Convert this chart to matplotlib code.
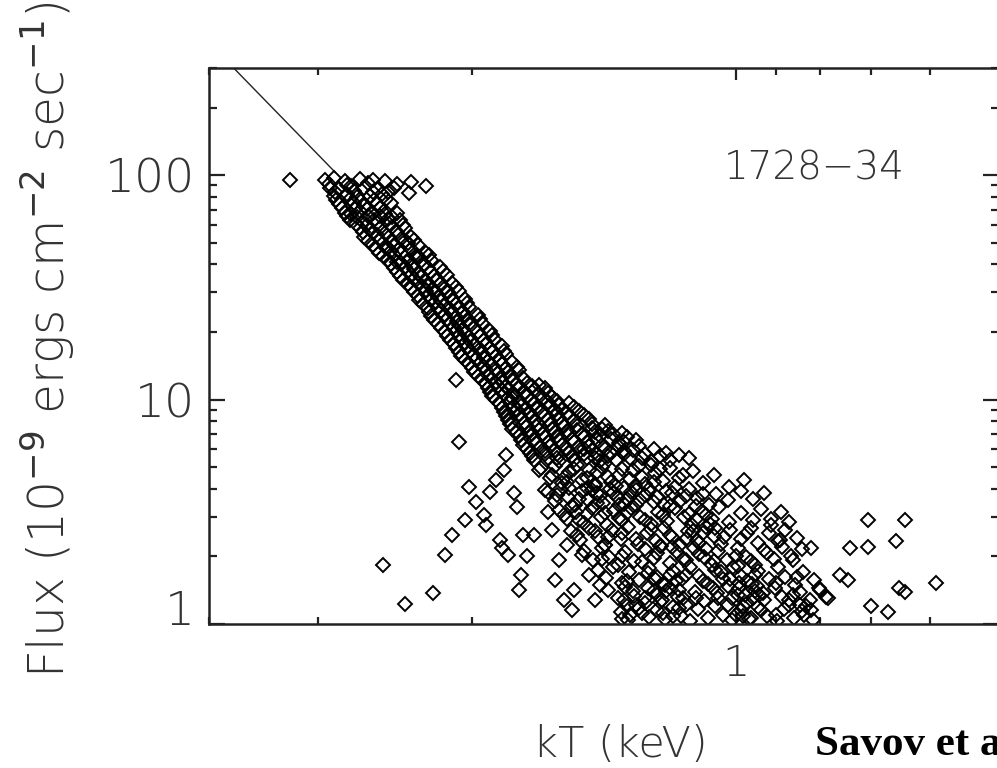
import numpy as np
import matplotlib.pyplot as plt
from matplotlib.ticker import FixedLocator, FixedFormatter, NullFormatter, LogLocator
from matplotlib.transforms import ScaledTranslation

# --- 数据 (kT [keV], Flux [1e-9 erg cm^-2 s^-1]) ---

# 主带上半部分: 沿 F ~ T^4 的冷却轨迹
band_points = [
    (3.23, 95), (2.95, 95), (2.88, 97), (2.80, 94), (2.69, 96), (2.60, 95), (2.52, 94), (2.35, 93),
    (2.91, 88), (2.84, 87), (2.75, 89), (2.66, 88), (2.57, 87), (2.46, 88), (2.26, 89),
    (2.88, 81), (2.78, 82), (2.71, 80), (2.62, 81), (2.54, 82), (2.36, 83),
    (2.84, 74), (2.73, 75), (2.66, 73), (2.57, 74), (2.48, 75),
    (2.80, 68), (2.75, 67), (2.69, 69), (2.60, 68), (2.52, 67), (2.44, 68),
    (2.76, 63), (2.67, 62), (2.59, 63), (2.50, 64), (2.42, 63),
    (2.69, 58), (2.62, 57), (2.55, 58), (2.47, 59), (2.39, 58),
    (2.66, 53), (2.57, 54), (2.49, 53), (2.41, 52), (2.35, 53),
    (2.60, 49), (2.52, 48), (2.46, 49), (2.37, 50), (2.31, 49),
    (2.56, 45), (2.48, 46), (2.41, 45), (2.33, 44), (2.26, 45),
    (2.50, 42), (2.44, 41), (2.36, 42), (2.30, 43), (2.23, 42),
    (2.46, 38.5), (2.39, 39), (2.33, 38), (2.25, 38.5), (2.18, 39),
    (2.42, 35.5), (2.35, 36), (2.29, 35), (2.21, 35.5), (2.14, 36),
    (2.37, 32.7), (2.31, 33), (2.24, 32.5), (2.18, 32.7), (2.11, 33),
    (2.33, 30), (2.26, 30.5), (2.21, 30), (2.13, 30.1), (2.07, 30.5),
    (2.30, 27.7), (2.23, 28), (2.17, 27.5), (2.11, 27.7), (2.04, 28),
    (2.25, 25.5), (2.19, 25.8), (2.12, 25.3), (2.07, 25.5), (2.02, 25.8),
    (2.23, 23.5), (2.15, 23.7), (2.09, 23.3), (2.04, 23.5), (1.97, 23.8),
    (2.19, 21.7), (2.12, 21.9), (2.07, 21.5), (2.02, 21.7), (1.95, 22),
    (2.15, 20), (2.09, 20.2), (2.04, 19.8), (1.97, 20), (1.91, 20.3),
    (2.12, 18.4), (2.06, 18.6), (2.01, 18.2), (1.94, 18.4), (1.89, 18.7),
    (2.09, 17), (2.03, 17.2), (1.96, 16.8), (1.91, 17), (1.85, 17.3),
    (2.06, 15.6), (1.99, 15.8), (1.94, 15.4), (1.88, 15.6), (1.83, 15.9),
    (2.02, 14.4), (1.96, 14.6), (1.90, 14.2), (1.85, 14.4), (1.80, 14.7),
    (1.99, 13.3), (1.93, 13.5), (1.87, 13.1), (1.82, 13.3), (1.77, 13.6),
    (2.09, 12.2), (1.95, 12.2), (1.90, 12.4), (1.85, 12), (1.80, 12.2), (1.75, 12.5),
    (1.92, 11.3), (1.87, 11.5), (1.82, 11.1), (1.77, 11.3), (1.71, 11.5), (1.65, 11.2),
    (1.90, 10.4), (1.84, 10.6), (1.80, 10.2), (1.73, 10.4), (1.68, 10.6), (1.62, 10.3),
    (1.86, 9.6), (1.81, 9.8), (1.76, 9.4), (1.70, 9.6), (1.64, 9.8), (1.59, 9.5), (1.55, 9.7),
    (1.84, 8.8), (1.78, 9), (1.72, 8.7), (1.67, 8.8), (1.61, 9), (1.56, 8.7), (1.51, 8.9),
    (1.82, 8.1), (1.76, 8.3), (1.70, 8), (1.64, 8.1), (1.59, 8.3), (1.53, 8), (1.47, 8.2),
    (1.80, 7.4), (1.73, 7.6), (1.68, 7.3), (1.62, 7.4), (1.57, 7.6), (1.52, 7.3), (1.46, 7.5), (1.42, 7.4),
    (1.77, 6.9), (1.71, 7), (1.65, 6.8), (1.60, 6.9), (1.55, 7.1), (1.49, 6.8), (1.43, 6.9), (1.38, 7), (1.33, 6.8),
    (1.75, 6.3), (1.69, 6.4), (1.63, 6.2), (1.58, 6.3), (1.53, 6.5), (1.47, 6.2), (1.42, 6.3), (1.36, 6.4), (1.29, 6.2),
    (1.72, 5.8), (1.65, 5.9), (1.60, 5.7), (1.55, 5.8), (1.49, 6), (1.44, 5.7), (1.39, 5.8), (1.34, 5.9), (1.27, 5.7), (1.20, 5.8),
    (1.70, 5.4), (1.64, 5.5), (1.59, 5.3), (1.53, 5.4), (1.48, 5.5), (1.43, 5.3), (1.37, 5.4), (1.32, 5.5), (1.25, 5.3), (1.19, 5.4), (1.13, 5.5),
]

# 主带上半部分中心更密集的点
core_points = [
    (2.92, 91), (2.78, 90), (2.63, 92), (2.44, 91),
    (2.87, 84.5), (2.73, 85), (2.60, 84), (2.50, 84.5),
    (2.86, 77.5), (2.76, 78), (2.68, 77), (2.59, 77.5), (2.51, 78),
    (2.82, 71), (2.72, 71.5), (2.64, 70.5), (2.55, 71),
    (2.78, 65.5), (2.71, 65), (2.63, 66), (2.55, 65.5), (2.47, 65),
    (2.72, 60.5), (2.64, 60), (2.57, 61), (2.49, 60.5), (2.40, 60),
    (2.67, 55.5), (2.60, 56), (2.52, 55), (2.44, 55.5),
    (2.63, 51), (2.55, 51.5), (2.47, 50.5), (2.39, 51), (2.33, 51.5),
    (2.58, 47), (2.50, 47.5), (2.43, 46.5), (2.35, 47),
    (2.53, 43.5), (2.46, 44), (2.39, 43), (2.32, 43.5), (2.24, 44),
    (2.48, 40), (2.41, 40.5), (2.34, 39.5), (2.27, 40),
    (2.44, 37), (2.37, 37.5), (2.31, 36.5), (2.23, 37), (2.16, 37.5),
    (2.40, 34), (2.33, 34.5), (2.26, 33.7), (2.20, 34),
    (2.35, 31.3), (2.28, 31.7), (2.22, 31), (2.15, 31.3), (2.09, 31.7),
    (2.31, 28.9), (2.25, 29.2), (2.19, 28.6), (2.12, 28.9),
    (2.28, 26.6), (2.21, 26.9), (2.15, 26.3), (2.09, 26.6), (2.03, 26.9),
    (2.24, 24.5), (2.17, 24.8), (2.11, 24.2), (2.05, 24.5),
    (2.21, 22.6), (2.14, 22.8), (2.08, 22.4), (2.03, 22.6), (1.96, 22.8),
    (2.17, 20.8), (2.10, 21), (2.05, 20.6), (1.99, 20.8),
    (2.14, 19.2), (2.07, 19.4), (2.02, 19), (1.96, 19.2), (1.90, 19.4),
    (2.10, 17.7), (2.04, 17.9), (1.99, 17.5), (1.93, 17.7),
    (2.07, 16.3), (2.01, 16.5), (1.95, 16.1), (1.90, 16.3), (1.84, 16.5),
    (2.04, 15), (1.98, 15.2), (1.92, 14.8), (1.86, 15),
    (2.00, 13.8), (1.94, 14), (1.88, 13.6), (1.83, 13.8), (1.78, 14),
    (1.97, 12.7), (1.92, 12.9), (1.86, 12.5), (1.81, 12.7),
    (1.93, 11.7), (1.88, 11.9), (1.83, 11.5), (1.78, 11.7), (1.73, 11.9), (1.68, 11.6),
    (1.91, 10.8), (1.85, 11), (1.79, 10.6), (1.74, 10.8), (1.70, 11), (1.64, 10.7),
    (1.88, 10), (1.82, 10.2), (1.77, 9.8), (1.71, 10), (1.66, 10.2), (1.60, 9.9),
    (1.85, 9.2), (1.79, 9.4), (1.74, 9.1), (1.69, 9.2), (1.63, 9.4), (1.58, 9.1), (1.53, 9.3),
    (1.83, 8.45), (1.77, 8.6), (1.71, 8.35), (1.65, 8.45), (1.60, 8.6), (1.55, 8.35), (1.49, 8.5),
    (1.81, 7.75), (1.74, 7.9), (1.69, 7.65), (1.63, 7.75), (1.58, 7.9), (1.52, 7.65), (1.46, 7.8), (1.41, 7.7),
    (1.78, 7.15), (1.72, 7.25), (1.66, 7.05), (1.61, 7.15), (1.56, 7.25), (1.50, 7.05), (1.45, 7.15), (1.40, 7.25), (1.35, 7.1),
    (1.76, 6.6), (1.70, 6.7), (1.64, 6.5), (1.59, 6.6), (1.54, 6.7), (1.48, 6.5), (1.44, 6.6), (1.39, 6.7), (1.34, 6.5), (1.30, 6.6),
    (1.73, 6.05), (1.67, 6.15), (1.61, 5.95), (1.56, 6.05), (1.51, 6.15), (1.46, 5.95), (1.41, 6.05), (1.36, 6.15), (1.31, 5.95), (1.24, 6.05),
    (1.71, 5.6), (1.65, 5.7), (1.60, 5.5), (1.54, 5.6), (1.49, 5.7), (1.45, 5.5), (1.40, 5.6), (1.34, 5.7), (1.28, 5.5), (1.22, 5.6), (1.16, 5.65),
]

# 主带下半部分 (F < 5), 点分布更散
lower_points = [
    (1.67, 4.95), (1.63, 4.47), (1.61, 5.06), (1.58, 4.25), (1.55, 4.75), (1.52, 5.11), (1.50, 4.38),
    (1.47, 4.85), (1.45, 4.20), (1.42, 5.01), (1.40, 4.52), (1.37, 4.12), (1.35, 4.90), (1.32, 4.42),
    (1.29, 5.06), (1.27, 4.20), (1.235, 4.70), (1.21, 4.34), (1.19, 4.95), (1.16, 4.47), (1.12, 4.80),
    (1.09, 4.25), (1.06, 4.61), (1.017, 4.08), (0.978, 4.38), (1.566, 4.52), (1.48, 4.03), (1.41, 5.22),
    (1.34, 4.03), (1.25, 5.11),
    (1.64, 3.87), (1.61, 3.53), (1.586, 3.99), (1.554, 3.68), (1.526, 3.39), (1.50, 3.91), (1.474, 3.57),
    (1.442, 3.84), (1.419, 3.46), (1.393, 3.99), (1.364, 3.64), (1.341, 3.43), (1.317, 3.87), (1.287, 3.57),
    (1.257, 3.99), (1.229, 3.68), (1.208, 3.39), (1.184, 3.84), (1.157, 3.53), (1.13, 3.99), (1.106, 3.64),
    (1.073, 3.39), (1.053, 3.80), (1.02, 3.57), (0.985, 3.91), (0.955, 3.61), (0.928, 3.84), (1.45, 4.12),
    (1.303, 4.12), (1.172, 4.08),
    (1.59, 3.22), (1.558, 2.93), (1.522, 3.15), (1.49, 2.82), (1.458, 3.29), (1.426, 3.00), (1.404, 2.76),
    (1.376, 3.19), (1.348, 2.90), (1.317, 3.29), (1.287, 3.00), (1.25, 2.79), (1.226, 3.15), (1.199, 2.87),
    (1.172, 3.29), (1.145, 3.00), (1.121, 2.76), (1.094, 3.19), (1.064, 2.93), (1.045, 3.32), (1.017, 2.84),
    (0.987, 3.12), (0.955, 2.90), (0.935, 3.26), (0.91, 2.93), (0.888, 3.15), (0.87, 2.84), (1.36, 3.39),
    (1.109, 3.36),
    (1.542, 2.59), (1.506, 2.37), (1.47, 2.68), (1.437, 2.44), (1.411, 2.25), (1.384, 2.62), (1.353, 2.39),
    (1.327, 2.70), (1.293, 2.27), (1.263, 2.54), (1.232, 2.35), (1.208, 2.68), (1.184, 2.44), (1.157, 2.25),
    (1.133, 2.59), (1.106, 2.37), (1.082, 2.70), (1.06, 2.47), (1.038, 2.27), (1.015, 2.62), (0.987, 2.39),
    (0.96, 2.68), (0.942, 2.30), (0.915, 2.54), (0.895, 2.35), (0.878, 2.62), (0.851, 2.42), (1.22, 2.22),
    (1.055, 2.68),
    (1.49, 2.12), (1.454, 1.93), (1.422, 2.18), (1.396, 1.99), (1.364, 1.83), (1.337, 2.10), (1.307, 1.91),
    (1.27, 2.16), (1.241, 1.97), (1.217, 2.22), (1.19, 1.87), (1.166, 2.10), (1.139, 1.93), (1.115, 2.18),
    (1.088, 1.99), (1.064, 1.83), (1.047, 2.12), (1.023, 1.93), (0.995, 2.18), (0.973, 1.99), (0.95, 1.83),
    (0.928, 2.14), (0.905, 1.95), (0.885, 2.20), (0.865, 2.01), (0.839, 2.16), (0.995, 1.81), (1.184, 2.20),
    (1.437, 1.74), (1.407, 1.60), (1.38, 1.79), (1.348, 1.52), (1.323, 1.70), (1.29, 1.57), (1.257, 1.78),
    (1.229, 1.62), (1.205, 1.49), (1.178, 1.72), (1.151, 1.59), (1.127, 1.79), (1.10, 1.64), (1.076, 1.51),
    (1.055, 1.74), (1.035, 1.59), (1.008, 1.79), (0.985, 1.64), (0.958, 1.51), (0.942, 1.72), (0.915, 1.59),
    (0.895, 1.79), (0.878, 1.62), (0.855, 1.49), (0.837, 1.70), (0.814, 1.57),
    (1.40, 1.42), (1.364, 1.30), (1.337, 1.46), (1.307, 1.33), (1.27, 1.235), (1.241, 1.40), (1.214, 1.28),
    (1.19, 1.45), (1.163, 1.32), (1.139, 1.22), (1.112, 1.39), (1.088, 1.27), (1.062, 1.44), (1.047, 1.31),
    (1.02, 1.48), (0.995, 1.35), (0.97, 1.235), (0.95, 1.40), (0.928, 1.28), (0.902, 1.45), (0.885, 1.32),
    (0.868, 1.22), (0.845, 1.39), (0.822, 1.28), (0.804, 1.45), (0.788, 1.32),
    (1.353, 1.13), (1.327, 1.04), (1.29, 1.18), (1.257, 1.075), (1.229, 1.15), (1.205, 1.05), (1.178, 1.19),
    (1.154, 1.085), (1.127, 1.03), (1.103, 1.17), (1.076, 1.06), (1.057, 1.20), (1.035, 1.10), (1.01, 1.04),
    (0.985, 1.15), (0.96, 1.06), (0.942, 1.19), (0.92, 1.085), (0.897, 1.03), (0.88, 1.165), (0.858, 1.06),
    (0.839, 1.14), (0.816, 1.04),
]

# 主带下半部分里更密的点
lower_extra_points = [
    (1.62, 4.6), (1.56, 4.3), (1.53, 4.9), (1.48, 4.45), (1.44, 4.75), (1.39, 4.3), (1.36, 4.6),
    (1.31, 4.85), (1.28, 4.5), (1.24, 4.3), (1.22, 4.9), (1.15, 4.6),
    (1.60, 3.75), (1.55, 4.05), (1.51, 3.6), (1.46, 3.95), (1.43, 3.7), (1.38, 3.85), (1.33, 3.6),
    (1.30, 3.95), (1.27, 3.75), (1.24, 3.5), (1.20, 3.9), (1.14, 3.7), (1.09, 3.8),
    (1.57, 3.05), (1.54, 3.35), (1.48, 3.1), (1.44, 3.45), (1.41, 3.12), (1.36, 2.98), (1.33, 3.12),
    (1.30, 3.4), (1.27, 2.9), (1.21, 3.05), (1.19, 3.35), (1.13, 3.1), (1.08, 3.05),
    (1.52, 2.5), (1.45, 2.6), (1.40, 2.45), (1.35, 2.55), (1.30, 2.4), (1.25, 2.65), (1.19, 2.5),
    (1.14, 2.4), (1.09, 2.55), (1.03, 2.45), (0.97, 2.55),
    (1.42, 1.95), (1.35, 2.0), (1.28, 1.88), (1.23, 2.08), (1.15, 1.95), (1.10, 2.05), (1.06, 1.9),
    (1.00, 2.0), (0.96, 1.9), (0.92, 2.08),
    (1.33, 1.55), (1.26, 1.68), (1.21, 1.5), (1.14, 1.65), (1.09, 1.55), (1.04, 1.7), (0.99, 1.52),
    (0.95, 1.66), (0.90, 1.52), (0.85, 1.62),
    (1.30, 1.22), (1.23, 1.35), (1.16, 1.18), (1.11, 1.3), (1.05, 1.38), (1.02, 1.22), (0.98, 1.08),
    (0.94, 1.35), (0.90, 1.1), (0.86, 1.35), (0.83, 1.2),
]

# 底部的几个黑色团块
cluster_points = [
    (1.28, 1.12), (1.26, 1.45), (1.24, 1.6), (1.22, 1.25), (1.20, 1.4), (1.18, 1.08),
    (1.17, 1.55), (1.15, 1.3), (1.27, 1.3), (1.21, 1.12), (1.19, 1.65), (1.16, 1.42),
    (1.01, 1.3), (1.00, 1.1), (0.99, 1.45), (0.98, 1.2), (0.97, 1.55), (0.965, 1.05),
    (0.955, 1.3), (0.945, 1.48), (0.935, 1.15), (0.93, 1.38), (1.015, 1.58), (0.975, 1.35),
    (1.35, 1.05), (1.33, 1.2), (1.31, 1.4), (1.32, 1.1), (1.34, 1.28),
    (1.12, 2.6), (1.10, 2.3), (1.07, 2.8), (1.11, 2.95), (1.08, 2.15),
]

# 左下方的低通量点
low_points = [
    (2.53, 1.83), (2.39, 1.23), (2.22, 1.37), (2.15, 2.03), (2.11, 2.49), (2.04, 2.9),
    (2.07, 6.5), (2.02, 4.07), (1.98, 3.49), (1.94, 3.06), (1.93, 2.76), (1.91, 3.87),
    (1.88, 4.38), (1.86, 2.37), (1.85, 2.18), (1.84, 4.85), (1.83, 5.66), (1.82, 2.03),
    (1.79, 3.83), (1.78, 3.32), (1.77, 1.42), (1.76, 1.65), (1.75, 2.49), (1.73, 2.01),
    (1.70, 2.49), (1.68, 4.85), (1.65, 3.95), (1.64, 3.15), (1.62, 2.62), (1.61, 1.57),
    (1.59, 1.93), (1.57, 1.28), (1.56, 2.25), (1.54, 1.15), (1.53, 1.42), (1.51, 2.90),
    (1.50, 2.03), (1.47, 1.65), (1.45, 1.28), (1.43, 1.49), (1.41, 2.25),
]

# 右侧低温尾部
tail_points = [
    (0.82, 2.18), (0.80, 1.42), (0.785, 1.31), (0.76, 1.65), (0.745, 1.57), (0.74, 2.18),
    (0.705, 2.9), (0.705, 2.2), (0.70, 1.2), (0.67, 1.13), (0.655, 2.34), (0.65, 1.45),
    (0.64, 2.9), (0.64, 1.39), (0.59, 1.52), (0.87, 1.28), (0.845, 1.21), (0.835, 1.1),
    (0.82, 1.15), (0.89, 2.37), (0.91, 2.76), (0.86, 1.93),
]

# F ~ kT^4 黑体线 (端点)
line_kt = [4.0, 2.87]
line_flux = [389, 103]

source_name = "1728\u221234"
y_ticks = [1, 10, 100]
y_tick_labels = ["1", "10", "100"]
x_ticks = [1]
x_tick_labels = ["1"]

# --- 绘图 ---
fig = plt.figure(figsize=(9.97, 7.68), dpi=100)
ax = fig.add_axes([209 / 997, 144 / 768, 790 / 997, 556 / 768])

ink = "#222222"
ax.plot(line_kt, line_flux, color=ink, lw=1.0)

groups = (band_points, core_points, lower_points, lower_extra_points,
          cluster_points, low_points, tail_points)
for pts in groups:
    kt, flux = np.array(pts).T
    ax.plot(kt, flux, linestyle="none", marker="D", ms=7.6, mfc="none", mec="black", mew=1.4)

ax.set_xscale("log")
ax.set_yscale("log")
ax.set_xlim(4, 0.5)
ax.set_ylim(1, 300)

ax.xaxis.set_major_locator(FixedLocator(x_ticks))
ax.xaxis.set_major_formatter(FixedFormatter(x_tick_labels))
ax.xaxis.set_minor_locator(LogLocator(base=10, subs=np.arange(2, 10)))
ax.xaxis.set_minor_formatter(NullFormatter())
ax.yaxis.set_major_locator(FixedLocator(y_ticks))
ax.yaxis.set_major_formatter(FixedFormatter(y_tick_labels))
ax.yaxis.set_minor_locator(LogLocator(base=10, subs=np.arange(2, 10)))
ax.yaxis.set_minor_formatter(NullFormatter())

for s in ax.spines.values():
    s.set_linewidth(1.8)
    s.set_color(ink)

ax.tick_params(which="both", direction="in", top=True, right=True, width=1.6, color=ink)
ax.tick_params(axis="x", which="major", length=8.6, pad=14, labelsize=31)
ax.tick_params(axis="x", which="minor", length=5)
ax.tick_params(axis="y", which="major", length=11.5, pad=10, labelsize=34)
ax.tick_params(axis="y", which="minor", length=5.5)

for lab in ax.get_xticklabels() + ax.get_yticklabels():
    lab.set_fontweight("light")
    lab.set_color("#333333")

# 最下面的 "1" 在原图中略微上移
lab1 = ax.yaxis.get_major_ticks()[0].label1
lab1.set_transform(lab1.get_transform() + ScaledTranslation(0, 12 / 72, fig.dpi_scale_trans))

ax.text(0.652, 0.82, source_name, transform=ax.transAxes, fontsize=28,
        fontweight="light", color="#333333", va="center", ha="left")

fig.text(0.622, 0.030, "kT (keV)", fontsize=31, fontweight="light",
         color="#333333", ha="center", va="center")
fig.text(0.048, 0.557, r"Flux (10$^{-9}$ ergs cm$^{-2}$ sec$^{-1}$)", fontsize=35,
         fontweight="light", color="#333333", rotation=90, ha="center", va="center")
fig.text(0.8175, 0.030, "Savov et al.", fontsize=31, fontweight="bold",
         family="Liberation Serif", color="black", ha="left", va="center")

fig.savefig("out.png", dpi=100)
